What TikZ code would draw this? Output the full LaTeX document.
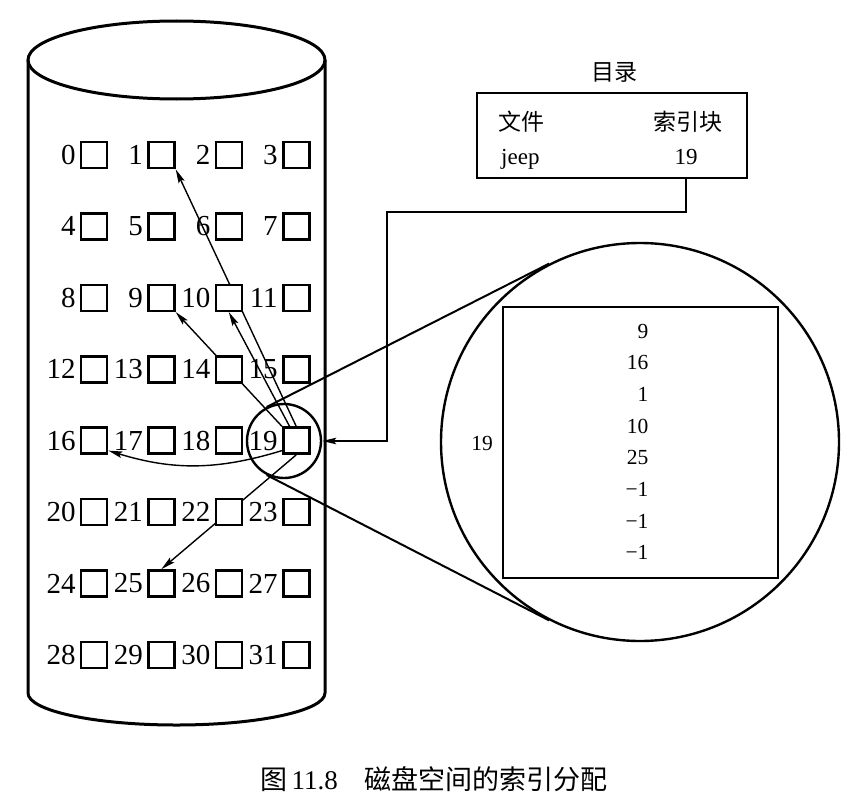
\documentclass[tikz,border=0pt]{standalone}
\usepackage{fontspec}
\setmainfont{Liberation Serif}
\newfontfamily\cjk{Noto Sans CJK SC}
\usetikzlibrary{arrows.meta,calc,positioning}
\pgfdeclarelayer{behind}
\pgfsetlayers{behind,main}
\newcommand{\blkfont}{\fontsize{29}{30}\selectfont}
\newcommand{\cellfont}{\fontsize{21.5}{22}\selectfont}
\newcommand{\dirfont}{\fontsize{23}{24}\selectfont}
\newcommand{\capfont}{\fontsize{27}{30}\selectfont}
\tikzstyle{blk} = [rectangle, draw=black, line width=2.6pt, fill=white, minimum size=26pt, inner sep=0pt]
\tikzstyle{ptr} = [->, line width=1.4pt]
\tikzstyle{lens} = [circle, draw=black, line width=2.4pt, inner sep=0pt]
\tikzstyle{boxframe} = [rectangle, draw=black, line width=2.6pt, inner sep=0pt]

\begin{document}
\begin{tikzpicture}[x=1pt,y=-1pt,>={Stealth[length=14pt,width=6.5pt,inset=2.5pt]},label distance=4pt,every label/.style={font=\blkfont,inner sep=0pt}]
\useasboundingbox (0,0) rectangle (856,800);
% disk
\draw[line width=3pt] (176.5,60) ellipse [x radius=148.5pt, y radius=39pt];
\draw[line width=3pt] (28,60) -- (28,693) arc [start angle=180, end angle=360, x radius=148.5pt, y radius=32pt] -- (325,60);
\foreach \i in {0,...,31} {
  \pgfmathsetmacro\bx{94+67.4*mod(\i,4)}
  \pgfmathsetmacro\by{155+71.4*int(\i/4)}
  \node (b\i) [blk, label={left:\i}] at (\bx,\by) {};
}
% index block 19 and its contents
\node (zoom) [lens, minimum size=74pt] at (284,441) {};
\node (detail) [lens, minimum size=398pt] at (640,442) {};
\node (tbl) [boxframe, minimum width=275pt, minimum height=271pt] at (640.5,442.5) {};
\node (ref) [font=\cellfont] at (482,443) {19};
\foreach \v [count=\k from 0] in {9,16,1,10,25,−1,−1,−1}
  \node (cell\k) [font=\cellfont, anchor=base east] at (652,338+31.7*\k) {\v};
\draw[line width=2pt] (zoom.117) -- (detail.117);
\draw[line width=2pt] (zoom.-117) -- (detail.-117);
% directory
\node (dirtitle) [font=\dirfont\cjk] at (614,72) {目录};
\node (dir) [boxframe, minimum width=270pt, minimum height=85pt] at (612,135.5) {};
\node (colfile) [font=\dirfont\cjk] at (521,122) {文件};
\node (colidx) [font=\dirfont\cjk] at (688,122) {索引块};
\node (fname) [font=\dirfont, anchor=base west, inner sep=0pt] at (501,164) {jeep};
\node (idx) [font=\dirfont, anchor=base, inner sep=0pt] at (686,164) {19};
\coordinate (corner) at (387,212);
\draw[ptr] (idx |- dir.south) |- (corner) |- (zoom.east);
% pointers
\begin{pgfonlayer}{behind}
\draw[ptr] (b19.north west) -- (b9.south east);
\draw[ptr] (b19.115) -- (b10.south);
\draw[ptr] (b19.north) -- (b1.south east);
\draw[ptr] (b19.215) to[bend left=17] (b16.-35);
\draw[ptr] (b19.south) -- (b25.north);
\end{pgfonlayer}
\node (caption) [font=\capfont] at (434,779) {{\cjk 图}\,11.8\quad{\cjk 磁盘空间的索引分配}};
\end{tikzpicture}
\end{document}
